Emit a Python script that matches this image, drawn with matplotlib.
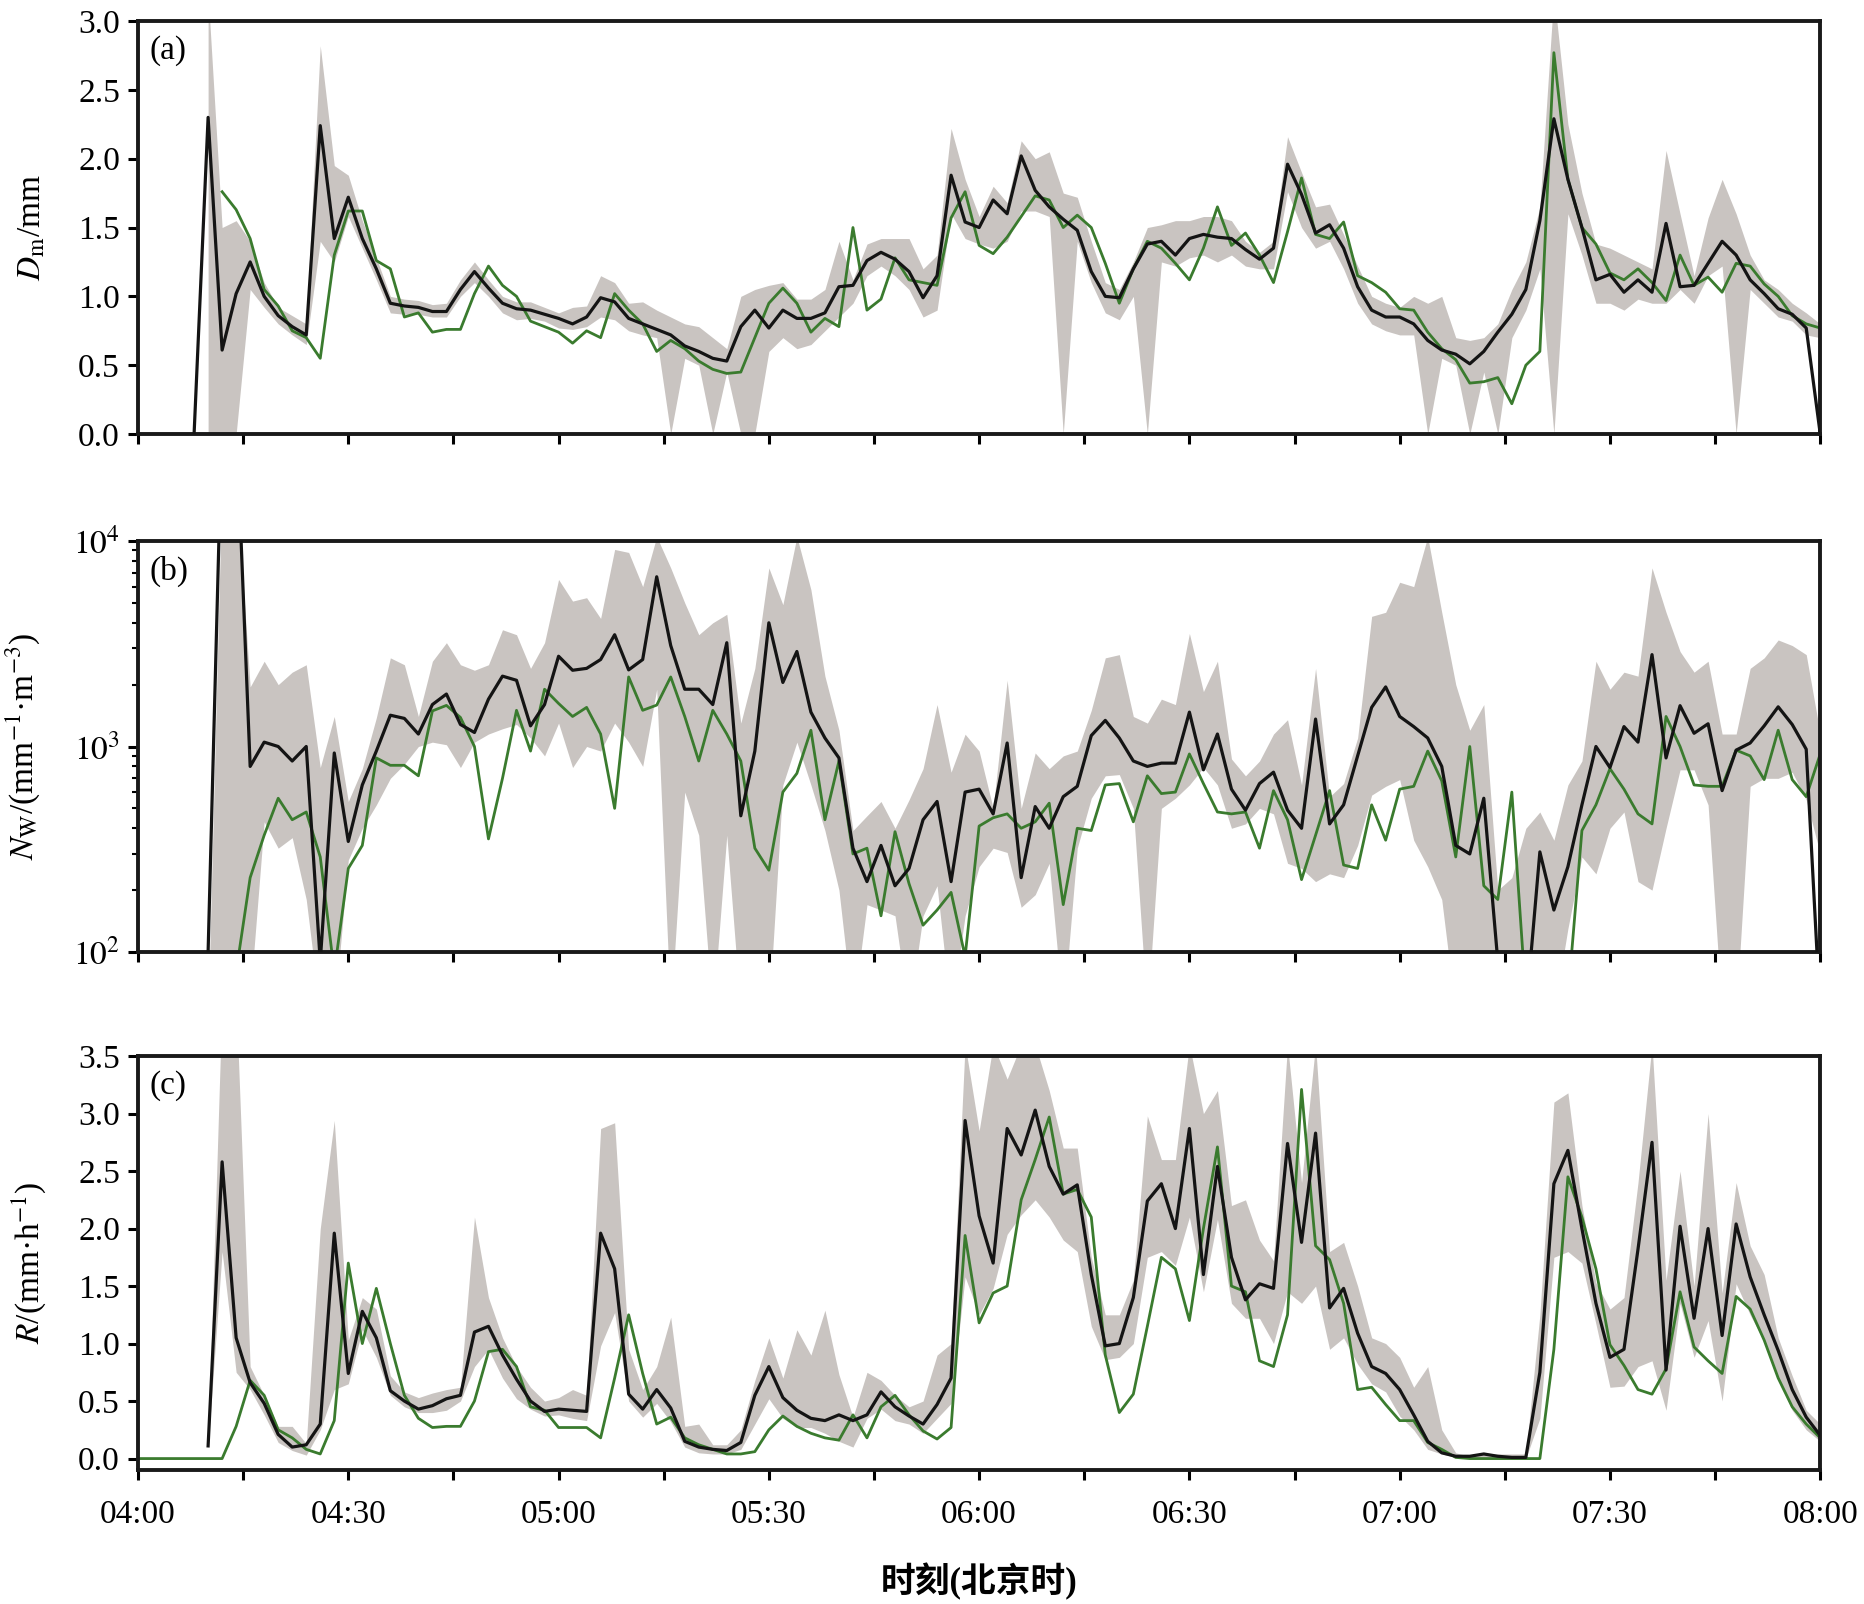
import numpy as np
import matplotlib
matplotlib.use('Agg')
import matplotlib.pyplot as plt
from matplotlib.ticker import FixedLocator, FuncFormatter, NullFormatter, LogLocator

nan = np.nan
plt.rcParams['font.family'] = ['Liberation Serif', 'Noto Sans CJK SC']
plt.rcParams['mathtext.fontset'] = 'stix'

# minutes after 04:00, 2-min steps
minutes = np.arange(0, 241, 2)

# (a) Dm / mm
dm_black = [nan, nan, nan, nan,
            0.0, 2.30, 0.61, 1.02, 1.25, 1.00, 0.86, 0.78, 0.72, 2.24, 1.42, 1.72, 1.42, 1.20, 0.95, 0.93,
            0.92, 0.89, 0.89, 1.05, 1.18, 1.06, 0.95, 0.91, 0.90, 0.87,
            0.84, 0.80, 0.85, 0.99, 0.96, 0.84, 0.80, 0.76, 0.72, 0.64,
            0.60, 0.55, 0.53, 0.78, 0.90, 0.77, 0.90, 0.84, 0.84, 0.88,
            1.07, 1.08, 1.26, 1.32, 1.27, 1.18, 0.99, 1.15, 1.88, 1.54,
            1.50, 1.70, 1.60, 2.02, 1.77, 1.65, 1.56, 1.48, 1.18, 1.00,
            0.99, 1.20, 1.38, 1.40, 1.30, 1.42, 1.45, 1.43, 1.42, 1.34,
            1.27, 1.35, 1.96, 1.74, 1.46, 1.52, 1.35, 1.07, 0.90, 0.85,
            0.85, 0.80, 0.68, 0.61, 0.58, 0.51, 0.60, 0.74, 0.87, 1.05,
            1.55, 2.29, 1.85, 1.50, 1.12, 1.16, 1.03, 1.12, 1.03, 1.53,
            1.07, 1.08, 1.24, 1.40, 1.30, 1.12, 1.02, 0.91, 0.87, 0.77, 0.0]
dm_green = [nan, nan, nan, nan, nan, nan,
            1.76, 1.63, 1.42, 1.05, 0.93, 0.75, 0.70, 0.55, 1.30, 1.62, 1.62, 1.26, 1.20, 0.85,
            0.88, 0.74, 0.76, 0.76, 1.02, 1.22, 1.08, 1.00, 0.82, 0.78,
            0.74, 0.66, 0.75, 0.70, 1.02, 0.90, 0.80, 0.60, 0.68, 0.62,
            0.53, 0.47, 0.44, 0.45, 0.70, 0.95, 1.06, 0.95, 0.74, 0.84,
            0.78, 1.50, 0.90, 0.98, 1.28, 1.12, 1.10, 1.08, 1.57, 1.76,
            1.37, 1.31, 1.43, 1.58, 1.73, 1.70, 1.50, 1.59, 1.50, 1.24,
            0.95, 1.20, 1.40, 1.35, 1.24, 1.12, 1.35, 1.65, 1.37, 1.46,
            1.30, 1.10, 1.47, 1.86, 1.45, 1.42, 1.54, 1.15, 1.10, 1.03,
            0.91, 0.90, 0.74, 0.62, 0.54, 0.37, 0.38, 0.41, 0.22, 0.50,
            0.60, 2.77, 1.85, 1.50, 1.38, 1.17, 1.12, 1.20, 1.10, 0.97,
            1.30, 1.08, 1.14, 1.03, 1.24, 1.22, 1.09, 1.00, 0.86, 0.80, 0.77]
dm_low = [nan, nan, nan, nan, nan,
          0.0, 0.0, 0.0, 1.05, 0.92, 0.80, 0.72, 0.65, 1.40, 1.25, 1.58, 1.35, 1.12, 0.88, 0.87,
          0.87, 0.85, 0.85, 1.00, 1.10, 1.00, 0.88, 0.83, 0.84, 0.82,
          0.77, 0.76, 0.78, 0.85, 0.83, 0.75, 0.72, 0.70, 0.0, 0.55,
          0.50, 0.0, 0.45, 0.0, 0.0, 0.60, 0.70, 0.62, 0.65, 0.75,
          0.85, 0.95, 1.15, 1.22, 1.15, 1.05, 0.85, 0.90, 1.60, 1.42,
          1.38, 1.35, 1.40, 1.62, 1.62, 1.58, 0.0, 1.40, 1.10, 0.88,
          0.83, 1.00, 0.0, 1.25, 1.22, 1.28, 1.30, 1.25, 1.30, 1.22,
          1.20, 1.20, 1.76, 1.50, 1.35, 1.40, 1.20, 0.95, 0.80, 0.75,
          0.72, 0.72, 0.0, 0.55, 0.50, 0.0, 0.45, 0.0, 0.70, 0.90,
          1.20, 0.0, 1.60, 1.30, 0.95, 0.95, 0.90, 0.98, 0.95, 0.95,
          1.05, 0.95, 1.15, 1.22, 0.0, 1.05, 0.95, 0.85, 0.82, 0.72, 0.70]
dm_high = [nan, nan, nan, nan, nan,
           3.20, 1.50, 1.55, 1.40, 1.10, 0.92, 0.86, 0.80, 2.82, 1.95, 1.88, 1.55, 1.28, 1.00, 0.98,
           0.97, 0.94, 0.95, 1.12, 1.25, 1.12, 1.00, 0.96, 0.96, 0.92,
           0.88, 0.92, 0.93, 1.15, 1.10, 0.95, 0.96, 0.90, 0.85, 0.80,
           0.78, 0.70, 0.62, 1.00, 1.05, 1.08, 1.10, 0.98, 0.98, 1.05,
           1.40, 1.12, 1.38, 1.42, 1.42, 1.42, 1.20, 1.30, 2.22, 1.85,
           1.58, 1.80, 1.68, 2.13, 2.00, 2.05, 1.75, 1.72, 1.40, 1.10,
           1.05, 1.25, 1.50, 1.52, 1.55, 1.55, 1.58, 1.58, 1.55, 1.40,
           1.32, 1.40, 2.16, 1.90, 1.65, 1.67, 1.45, 1.22, 1.00, 0.95,
           0.92, 1.00, 0.95, 1.00, 0.70, 0.68, 0.70, 0.80, 1.05, 1.25,
           1.65, 3.20, 2.25, 1.75, 1.38, 1.35, 1.30, 1.25, 1.20, 2.06,
           1.60, 1.15, 1.57, 1.85, 1.60, 1.30, 1.12, 1.05, 0.95, 0.88, 0.80]

# (b) Nw / (mm^-1 m^-3)
nw_black = [nan, nan, nan, nan, nan,
            100, 40000, 40000, 800, 1050, 1000, 850, 1000, 90, 930, 345, 650, 950, 1420, 1370,
            1150, 1600, 1800, 1280, 1170, 1700, 2200, 2100, 1260, 1600,
            2750, 2350, 2400, 2650, 3500, 2360, 2650, 6700, 3100, 1900,
            1900, 1600, 3200, 460, 950, 4000, 2050, 2900, 1470, 1100,
            880, 320, 220, 330, 210, 255, 440, 540, 220, 600,
            620, 470, 1040, 230, 510, 400, 570, 640, 1130, 1340,
            1100, 850, 800, 830, 830, 1470, 770, 1150, 620, 490,
            660, 750, 490, 400, 1360, 420, 520, 900, 1550, 1950,
            1400, 1250, 1100, 800, 330, 300, 560, 90, 50, 50,
            307, 160, 260, 520, 1000, 790, 1250, 1050, 2800, 880,
            1580, 1160, 1290, 610, 960, 1040, 1260, 1560, 1280, 970, 50]
nw_green = [nan, nan, nan, nan, nan, nan, nan,
            80, 230, 370, 560, 440, 480, 290, 80, 255, 330, 880, 810, 810,
            720, 1490, 1585, 1385, 1000, 355, 700, 1500, 950, 1900,
            1620, 1400, 1550, 1150, 500, 2180, 1500, 1590, 2180, 1400,
            850, 1500, 1150, 850, 320, 250, 600, 740, 1200, 440,
            850, 300, 320, 150, 385, 215, 135, 160, 195, 95,
            410, 450, 470, 400, 430, 530, 170, 400, 390, 650,
            660, 430, 720, 590, 600, 920, 660, 480, 470, 480,
            320, 610, 440, 225, 370, 610, 265, 255, 520, 350,
            620, 640, 950, 680, 290, 1000, 210, 180, 600, 60,
            60, 60, 60, 390, 520, 780, 620, 470, 420, 1400,
            1000, 650, 640, 640, 960, 900, 690, 1200, 690, 570, 920]
nw_low = [nan, nan, nan, nan, nan,
          50, 50, 50, 60, 430, 320, 360, 180, 50, 50, 280, 400, 520, 700, 820,
          1000, 1050, 1020, 790, 1050, 1150, 1220, 1280, 1100, 900,
          1300, 790, 1000, 950, 1300, 1050, 800, 1900, 50, 600,
          370, 50, 370, 50, 50, 50, 650, 1050, 650, 390,
          200, 50, 170, 160, 150, 50, 150, 210, 50, 150,
          260, 320, 305, 165, 190, 270, 50, 320, 560, 720,
          730, 500, 50, 500, 560, 650, 790, 650, 400, 420,
          500, 470, 270, 255, 220, 240, 230, 330, 580, 640,
          690, 350, 260, 180, 50, 50, 50, 50, 50, 50,
          50, 50, 130, 290, 240, 400, 480, 220, 200, 400,
          770, 770, 520, 50, 50, 640, 700, 700, 750, 550, 300]
nw_high = [nan, nan, nan, nan, nan,
           50, 20000, 20000, 1950, 2600, 2000, 2300, 2500, 790, 1400, 540, 780, 1380, 2700, 2500,
           1400, 2600, 3200, 2500, 2350, 2500, 3700, 3500, 2400, 3200,
           6500, 5100, 5300, 4200, 9100, 8800, 6000, 10500, 7400, 5000,
           3500, 4000, 4400, 1300, 2400, 7400, 4900, 10500, 5800, 2200,
           1200, 390, 460, 540, 400, 550, 780, 1600, 750, 1148,
           950, 500, 2100, 500, 930, 780, 900, 950, 1500, 2700,
           2800, 1400, 1300, 1700, 1600, 3550, 1850, 2600, 870, 720,
           850, 1150, 1350, 650, 2400, 570, 660, 1100, 4300, 4500,
           6300, 6000, 10500, 4500, 2000, 1200, 1600, 200, 230, 400,
           480, 350, 650, 850, 2600, 1900, 2300, 2200, 7400, 4500,
           2900, 2300, 2600, 1150, 1150, 2400, 2700, 3300, 3100, 2800, 1150]

# (c) R / (mm h^-1)
r_black = [nan, nan, nan, nan, nan,
           0.11, 2.58, 1.05, 0.66, 0.48, 0.21, 0.10, 0.12, 0.30, 1.96, 0.74, 1.28, 1.05, 0.59, 0.50,
           0.43, 0.46, 0.52, 0.55, 1.10, 1.15, 0.90, 0.69, 0.50, 0.41,
           0.43, 0.42, 0.41, 1.96, 1.65, 0.56, 0.43, 0.60, 0.44, 0.15,
           0.10, 0.08, 0.07, 0.14, 0.55, 0.80, 0.53, 0.42, 0.35, 0.33,
           0.38, 0.33, 0.38, 0.58, 0.45, 0.37, 0.30, 0.47, 0.70, 2.94,
           2.11, 1.70, 2.87, 2.64, 3.03, 2.54, 2.30, 2.38, 1.60, 0.98,
           1.00, 1.40, 2.24, 2.39, 2.00, 2.87, 1.60, 2.54, 1.75, 1.38,
           1.52, 1.48, 2.74, 1.88, 2.83, 1.31, 1.48, 1.09, 0.80, 0.74,
           0.60, 0.38, 0.15, 0.05, 0.02, 0.02, 0.04, 0.02, 0.01, 0.01,
           0.75, 2.39, 2.68, 2.00, 1.35, 0.88, 0.95, 1.82, 2.75, 0.77,
           2.02, 1.22, 2.00, 1.07, 2.04, 1.58, 1.25, 0.94, 0.60, 0.36, 0.20]
r_green = [0.0, 0.0, 0.0, 0.0, 0.0, 0.0, 0.0,
           0.28, 0.68, 0.55, 0.25, 0.18, 0.08, 0.04, 0.33, 1.70, 1.00, 1.48, 1.00, 0.55,
           0.35, 0.27, 0.28, 0.28, 0.50, 0.93, 0.95, 0.80, 0.45, 0.42,
           0.27, 0.27, 0.27, 0.18, 0.70, 1.25, 0.74, 0.30, 0.36, 0.18,
           0.12, 0.08, 0.04, 0.04, 0.06, 0.25, 0.37, 0.28, 0.22, 0.18,
           0.16, 0.38, 0.18, 0.45, 0.55, 0.38, 0.24, 0.17, 0.27, 1.94,
           1.18, 1.44, 1.50, 2.25, 2.60, 2.97, 2.30, 2.34, 2.10, 0.90,
           0.40, 0.56, 1.15, 1.75, 1.65, 1.20, 2.00, 2.71, 1.50, 1.45,
           0.85, 0.80, 1.25, 3.21, 1.85, 1.73, 1.35, 0.60, 0.62, 0.47,
           0.33, 0.33, 0.14, 0.08, 0.01, 0.0, 0.0, 0.0, 0.0, 0.0,
           0.0, 0.95, 2.45, 2.10, 1.65, 0.99, 0.81, 0.60, 0.56, 0.78,
           1.45, 0.97, 0.85, 0.74, 1.41, 1.30, 1.03, 0.70, 0.45, 0.30, 0.18]
r_low = [nan, nan, nan, nan, nan,
         0.11, 1.80, 0.75, 0.60, 0.38, 0.14, 0.07, 0.03, 0.25, 0.60, 0.65, 1.12, 0.88, 0.55, 0.45,
         0.40, 0.40, 0.42, 0.50, 0.80, 0.95, 0.70, 0.52, 0.43, 0.37,
         0.38, 0.35, 0.33, 0.98, 1.27, 0.50, 0.36, 0.48, 0.32, 0.10,
         0.05, 0.04, 0.04, 0.08, 0.30, 0.52, 0.35, 0.27, 0.27, 0.22,
         0.15, 0.10, 0.35, 0.43, 0.33, 0.30, 0.22, 0.35, 0.48, 1.58,
         1.25, 1.48, 1.95, 2.12, 2.25, 2.10, 1.90, 1.80, 1.15, 0.86,
         0.88, 1.00, 1.75, 1.80, 1.68, 2.10, 1.45, 2.08, 1.35, 1.22,
         1.22, 1.00, 1.45, 1.35, 1.50, 0.95, 1.05, 0.82, 0.65, 0.58,
         0.37, 0.25, 0.08, 0.04, 0.01, 0.0, 0.0, 0.0, 0.0, 0.0,
         0.35, 1.75, 1.80, 1.70, 1.17, 0.62, 0.63, 0.80, 0.85, 0.42,
         1.35, 0.88, 1.20, 0.50, 1.52, 1.25, 1.02, 0.70, 0.42, 0.25, 0.15]
r_high = [nan, nan, nan, nan, nan,
          0.11, 4.00, 4.00, 0.80, 0.55, 0.28, 0.28, 0.13, 2.00, 2.94, 1.03, 1.40, 1.30, 0.72, 0.58,
          0.53, 0.57, 0.60, 0.62, 2.10, 1.40, 1.05, 0.80, 0.62, 0.50,
          0.53, 0.60, 0.55, 2.87, 2.92, 0.95, 0.60, 0.80, 1.23, 0.28,
          0.30, 0.12, 0.12, 0.25, 0.68, 1.05, 0.70, 1.12, 0.90, 1.29,
          0.73, 0.36, 0.75, 0.68, 0.55, 0.45, 0.50, 0.90, 1.00, 3.60,
          2.85, 3.60, 3.30, 3.60, 3.60, 3.20, 2.70, 2.70, 1.75, 1.25,
          1.25, 1.55, 2.98, 2.60, 2.60, 3.60, 3.00, 3.20, 2.20, 2.25,
          1.90, 1.72, 3.60, 2.40, 3.60, 1.80, 1.88, 1.50, 1.05, 1.00,
          0.88, 0.62, 0.80, 0.25, 0.05, 0.02, 0.04, 0.04, 0.04, 0.04,
          1.25, 3.10, 3.18, 2.20, 1.53, 1.30, 1.40, 2.40, 3.60, 1.55,
          2.50, 1.50, 3.00, 1.44, 2.40, 1.85, 1.60, 1.05, 0.72, 0.42, 0.30]

time_ticks = np.arange(0, 241, 15)

BAND = '#c9c4c1'
BLACK = '#141414'
GREEN = '#3a7b2e'

fig = plt.figure(figsize=(18.65, 16.04), dpi=100)
ax_a = fig.add_axes([0.074, 0.7294, 0.902, 0.2575])
ax_b = fig.add_axes([0.074, 0.4065, 0.902, 0.2562])
ax_c = fig.add_axes([0.074, 0.0835, 0.902, 0.2581])

panels = [
    (ax_a, dm_black, dm_green, dm_low, dm_high, '(a)'),
    (ax_b, nw_black, nw_green, nw_low, nw_high, '(b)'),
    (ax_c, r_black, r_green, r_low, r_high, '(c)'),
]

for ax, blk, grn, lo, hi, tag in panels:
    ax.fill_between(minutes, np.array(lo, float), np.array(hi, float),
                    color=BAND, linewidth=0, zorder=1)
    ax.plot(minutes, blk, color=BLACK, linewidth=2.3, zorder=3)
    ax.plot(minutes, grn, color=GREEN, linewidth=2.0, zorder=2)
    ax.set_xlim(0, 240)
    ax.xaxis.set_major_locator(FixedLocator(time_ticks))
    ax.xaxis.set_major_formatter(NullFormatter())
    ax.tick_params(axis='both', which='major', direction='out', length=7, width=2.2,
                   labelsize=24, pad=6)
    ax.tick_params(axis='x', pad=14)
    for s in ax.spines.values():
        s.set_linewidth(2.8)
        s.set_color('#1a1a1a')
    ax.text(0.007, 0.965, tag, transform=ax.transAxes, ha='left', va='top', fontsize=24)

# (a)
ax_a.set_ylim(0, 3.0)
ax_a.set_yticks(np.arange(0, 3.01, 0.5))
ax_a.yaxis.set_major_formatter(FuncFormatter(lambda v, p: f'{v:.1f}'))
ax_a.set_ylabel(r'$D_{\mathrm{m}}$/mm', fontsize=24, labelpad=22)

# (b)
ax_b.set_yscale('log')
ax_b.set_ylim(100, 10000)
ax_b.yaxis.set_major_locator(FixedLocator([100, 1000, 10000]))
ax_b.yaxis.set_major_formatter(FuncFormatter(lambda v, p: r'$10^{%d}$' % round(np.log10(v))))
ax_b.yaxis.set_minor_locator(LogLocator(base=10, subs=np.arange(2, 10)))
ax_b.yaxis.set_minor_formatter(NullFormatter())
ax_b.tick_params(axis='y', which='minor', direction='out', length=4, width=1.5)
ax_b.set_ylabel(r'$N_{\mathrm{W}}$/(mm$^{-1}$·m$^{-3}$)', fontsize=24, labelpad=22)

# (c)
ax_c.set_ylim(-0.1, 3.5)
ax_c.set_yticks(np.arange(0, 3.51, 0.5))
ax_c.yaxis.set_major_formatter(FuncFormatter(lambda v, p: f'{v:.1f}'))
ax_c.set_ylabel(r'$R$/(mm·h$^{-1}$)', fontsize=24, labelpad=22)
ax_c.xaxis.set_major_formatter(FuncFormatter(
    lambda v, p: f'{4 + int(v) // 60:02d}:{int(v) % 60:02d}' if int(v) % 30 == 0 else ''))
ax_c.set_xlabel('时刻(北京时)', fontsize=25, fontweight='bold', labelpad=24)

fig.savefig('out.png', dpi=100, facecolor='white')
